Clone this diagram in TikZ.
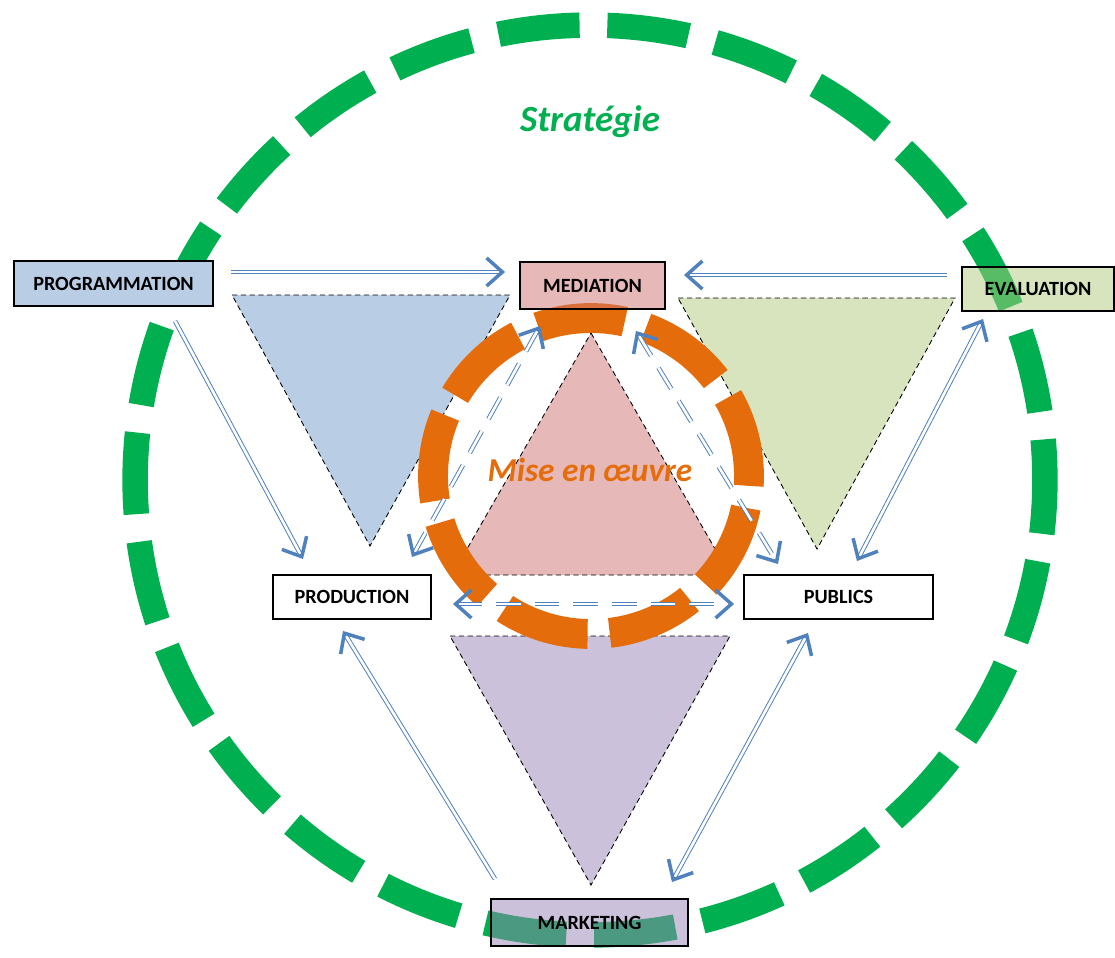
\documentclass[tikz,border=0pt]{standalone}
\usepackage{fontspec}
\setmainfont{Carlito}
\usetikzlibrary{arrows.meta}

\definecolor{ringgreen}{HTML}{00B050}
\definecolor{ringorange}{HTML}{E46C0A}
\definecolor{arrowblue}{HTML}{4F81BD}
\definecolor{triblue}{HTML}{B9CDE5}
\definecolor{trigreen}{HTML}{D7E4BD}
\definecolor{tripink}{HTML}{E6B9B8}
\definecolor{tripurple}{HTML}{CCC1DA}
\definecolor{boxpink}{HTML}{CD7371}
\definecolor{boxgreen}{HTML}{AFC97B}
\definecolor{boxpurple}{HTML}{9983B5}

\begin{document}
\begin{tikzpicture}[x=0.02cm, y=-0.02cm,
    % Define styles - pixel units, y going down
    box/.style={rectangle, draw=black, line width=1.1pt, inner sep=0pt, fill opacity=0.5, text opacity=1, font=\bfseries\fontsize{11.5}{13}\selectfont},
    tri/.style={draw=black, densely dashed, line width=0.5pt},
    ring/.style={line width=#1, line cap=butt},
    link/.style={->, draw=arrowblue, line width=0.55pt, double=white, double distance=1.5pt, >={Straight Barb[length=9pt, width=16pt, line width=2pt]}},
    duallink/.style={link, <->},
    dashlink/.style={duallink, dash pattern=on 14pt off 8pt}
]
\useasboundingbox (0,0) rectangle (1115,957);

% Strategy ring
\draw[ring=14.5pt, ringgreen, dash pattern=on 46.5pt off 15.8pt, dash phase=23.4pt] (590,480) circle (9.1cm);

% Triangles
\draw[tri, fill=triblue] (232,295) -- (510,295) -- (370,546) -- cycle;
\draw[tri, fill=trigreen] (678,298) -- (955,298) -- (817,549) -- cycle;
\draw[tri, fill=tripink] (591,333) -- (730,575) -- (452,575) -- cycle;
\draw[tri, fill=tripurple] (450,636) -- (730,636) -- (591,885) -- cycle;

% Implementation ring
\draw[ring=17pt, ringorange, dash pattern=on 49.9pt off 12.6pt, dash phase=3.1pt] (591,476) circle (3.16cm);

% Titles
\node[font=\bfseries\itshape\fontsize{21}{24}\selectfont, text=ringgreen] (strat_title) at (590,122) {Stratégie};
\node[font=\bfseries\itshape\fontsize{19}{22}\selectfont, text=ringorange] (impl_title) at (590,470) {Mise en œuvre};

% Boxes
\node[box, fill=triblue, fill opacity=1, minimum width=3.98cm, minimum height=0.9cm] (prog_box) at (113.5,283.5) {PROGRAMMATION};
\node[box, fill=boxpink, minimum width=2.9cm, minimum height=0.94cm] (med_box) at (592.5,285.5) {MEDIATION};
\node[box, fill=boxgreen, minimum width=3.04cm, minimum height=0.88cm] (eval_box) at (1038,289) {EVALUATION};
\node[box, fill=white, minimum width=3.16cm, minimum height=0.88cm] (prod_box) at (352,597) {PRODUCTION};
\node[box, fill=white, minimum width=3.78cm, minimum height=0.88cm] (pub_box) at (838.5,597) {PUBLICS};
\node[box, fill=boxpurple, minimum width=3.94cm, minimum height=0.94cm] (mkt_box) at (589.5,922.5) {MARKETING};

% Strategy links
\draw[link] ([shift={(17,-11.5)}]prog_box.east) -- ([shift={(-14,-13.5)}]med_box.west);
\draw[link] ([shift={(-14,-14)}]eval_box.west) -- ([shift={(18,-10.5)}]med_box.east);
\draw[link] ([shift={(61.5,14)}]prog_box.south) -- ([shift={(-49,-15)}]prod_box.north);
\draw[duallink] ([shift={(-55,7)}]eval_box.south) -- ([shift={(18.5,-13)}]pub_box.north);
\draw[link] ([shift={(-94.5,-19)}]mkt_box.north) -- ([shift={(-9,11)}]prod_box.south);
\draw[duallink] ([shift={(-30.5,13)}]pub_box.south) -- ([shift={(82.5,-16)}]mkt_box.north);

% Implementation links
\draw[dashlink] ([shift={(-52.5,16)}]med_box.south) -- ([shift={(60,-17)}]prod_box.north);
\draw[dashlink] ([shift={(43.5,21)}]med_box.south) -- ([shift={(-60.5,-10)}]pub_box.north);
\draw[dashlink] ([shift={(21,7)}]prod_box.east) -- ([shift={(-9,7)}]pub_box.west);

\end{tikzpicture}
\end{document}
